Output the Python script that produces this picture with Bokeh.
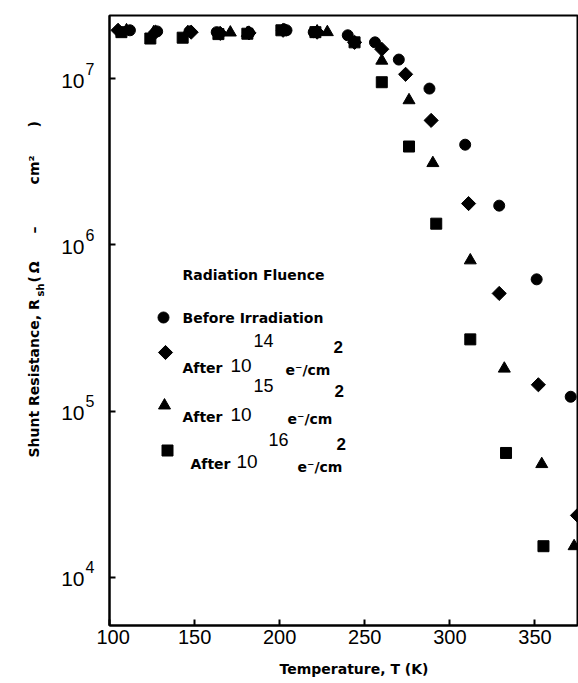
import numpy as np
from bokeh.plotting import figure
from bokeh.layouts import row
from bokeh.models import Label, FixedTicker, CustomJSTickFormatter, Range1d
from bokeh.embed import file_html
from bokeh.resources import INLINE

# ---------------- data ----------------
t_before = [112, 128, 147, 163, 182, 204, 220, 240, 256, 270, 288, 309, 329, 351, 371]
r_before = [1.95e7, 1.92e7, 1.92e7, 1.9e7, 1.88e7, 1.95e7, 1.9e7, 1.82e7, 1.65e7,
            1.3e7, 8.7e6, 4.0e6, 1.72e6, 6.2e5, 1.22e5]

t_e14 = [105, 127, 148, 165, 182, 202, 222, 244, 260, 274, 289, 311, 329, 352, 375]
r_e14 = [1.95e7, 1.9e7, 1.9e7, 1.87e7, 1.88e7, 1.95e7, 1.9e7, 1.65e7, 1.5e7,
         1.06e7, 5.6e6, 1.77e6, 5.1e5, 1.44e5, 2.36e4]

t_e15 = [110, 126, 146, 171, 181, 203, 222, 228, 260, 276, 290, 312, 332, 354, 373]
r_e15 = [1.95e7, 1.9e7, 1.9e7, 1.89e7, 1.88e7, 1.95e7, 1.92e7, 1.9e7, 1.28e7,
         7.4e6, 3.1e6, 8.06e5, 1.8e5, 4.8e4, 1.54e4]

t_e16 = [107, 124, 143, 164, 181, 201, 221, 244, 260, 276, 292, 312, 333, 355]
r_e16 = [1.9e7, 1.74e7, 1.76e7, 1.85e7, 1.86e7, 1.95e7, 1.9e7, 1.65e7, 9.5e6,
         3.9e6, 1.34e6, 2.7e5, 5.6e4, 1.54e4]

x_ticks = [100, 150, 200, 250, 300, 350]
y_ticks = [1e4, 1e5, 1e6, 1e7]
y_tick_exp = ["4", "5", "6", "7"]

legend_title = "Radiation Fluence"
legend_labels = ["Before Irradiation", "After", "After", "After"]
legend_exps = ["14", "15", "16"]

x_label = "\u2003\u2002Temperature, T (K)"
y_label_main = "Shunt Resistance, R"
y_label_sub = "sh"
y_label_rest = "(\u2009\u03a9\u2003\u2003\u2013\u2003\u2003\u2003cm\u00b2\u2003\u2003)"

# ---------------- layout ----------------
X_MIN, X_MAX = 100, 375
LOG_MIN, LOG_MAX = 3.7107, 7.379
Y_MIN, Y_MAX = 10 ** LOG_MIN, 10 ** LOG_MAX
W, H = 578, 683
SIDE_W = 96                  # width of the left label strip
BL, BT, BR, BB = 109, 15, 1, 58   # frame edges in page pixels
FW, FH = W - BL - BR, H - BT - BB

def px_x(xp):
    return X_MIN + (xp - BL) / FW * (X_MAX - X_MIN)

def px_y(yp):
    return 10 ** (LOG_MAX - (yp - BT) / FH * (LOG_MAX - LOG_MIN))

y_range = Range1d(Y_MIN, Y_MAX)

# ---------------- main plot ----------------
p = figure(width=W - SIDE_W, height=H, x_range=Range1d(X_MIN, X_MAX), y_range=y_range,
           y_axis_type="log", output_backend="svg", toolbar_location=None,
           min_border_left=BL - SIDE_W, min_border_top=BT, min_border_right=BR,
           min_border_bottom=BB)
p.background_fill_color = "white"
p.border_fill_color = "white"
p.xgrid.visible = False
p.ygrid.visible = False
p.outline_line_color = "black"
p.outline_line_width = 2

p.xaxis.ticker = FixedTicker(ticks=x_ticks)
p.xaxis.major_tick_in = 6
p.xaxis.major_tick_out = 0
p.xaxis.minor_tick_line_color = None
p.xaxis.axis_line_width = 2
p.xaxis.major_tick_line_width = 2
p.xaxis.major_label_text_font = "Liberation Sans"
p.xaxis.major_label_text_font_size = "20px"
p.xaxis.major_label_text_color = "black"
p.xaxis.major_label_standoff = 4
p.xaxis.axis_label = x_label
p.xaxis.axis_label_text_font = "DejaVu Sans"
p.xaxis.axis_label_text_font_style = "bold"
p.xaxis.axis_label_text_font_size = "14px"
p.xaxis.axis_label_text_color = "black"
p.xaxis.axis_label_standoff = 14

p.yaxis.ticker = FixedTicker(ticks=y_ticks)
p.yaxis.major_tick_in = 6
p.yaxis.major_tick_out = 0
p.yaxis.minor_tick_line_color = None
p.yaxis.axis_line_width = 2
p.yaxis.major_tick_line_width = 2
p.yaxis.major_label_standoff = 0
p.yaxis.formatter = CustomJSTickFormatter(code="return ''")

# ---------------- data marks ----------------
p.scatter(t_before, r_before, marker="circle", size=11, color="black")
p.scatter(t_e14, r_e14, marker="square", angle=np.pi / 4, size=10, color="black")
p.scatter(t_e15, r_e15, marker="triangle", size=12, color="black")
p.scatter(t_e16, r_e16, marker="square", size=11, color="black")

# ---------------- legend ----------------
BOLD = dict(text_font="DejaVu Sans", text_font_style="bold", text_color="black",
            text_baseline="middle", text_align="left")
PLAIN = dict(text_font="Liberation Sans", text_color="black",
             text_baseline="middle", text_align="left")

p.add_layout(Label(x=px_x(182), y=px_y(274), text=legend_title, text_font_size="14px", **BOLD))
p.scatter([px_x(163)], [px_y(317)], marker="circle", size=11, color="black")
p.scatter([px_x(165)], [px_y(352)], marker="square", angle=np.pi / 4, size=10, color="black")
p.scatter([px_x(164)], [px_y(405)], marker="triangle", size=12, color="black")
p.scatter([px_x(167)], [px_y(450)], marker="square", size=11, color="black")

p.add_layout(Label(x=px_x(182), y=px_y(317), text=legend_labels[0], text_font_size="14px", **BOLD))

rows = [  # after_x, after_y, ten_x, ten_y, exp_x, exp_y, e_x, e_y, two_x, two_y
    (182, 367, 230, 365, 253, 340, 285, 369, 333, 346),
    (182, 416, 230, 414, 253, 385, 287, 418, 334, 390),
    (190, 463, 236, 461, 268, 439, 297, 466, 336, 443),
]
for (ax, ay, tx, ty, ex, ey, cx, cy, wx, wy), lab, exp in zip(rows, legend_labels[1:], legend_exps):
    p.add_layout(Label(x=px_x(ax), y=px_y(ay), text=lab, text_font_size="14px", **BOLD))
    p.add_layout(Label(x=px_x(tx), y=px_y(ty), text="10", text_font_size="19px", **PLAIN))
    p.add_layout(Label(x=px_x(ex), y=px_y(ey), text=exp, text_font_size="18px", **PLAIN))
    p.add_layout(Label(x=px_x(cx), y=px_y(cy), text="e\u207b/cm", text_font_size="14px", **BOLD))
    p.add_layout(Label(x=px_x(wx), y=px_y(wy), text="2", text_font_size="17px",
                       **{**PLAIN, "text_font_style": "bold"}))

# ---------------- left strip: y tick labels and y title ----------------
s = figure(width=SIDE_W, height=H, x_range=Range1d(0, SIDE_W), y_range=y_range,
           y_axis_type="log", output_backend="svg", toolbar_location=None,
           x_axis_location=None, y_axis_location=None,
           min_border_left=0, min_border_right=0, min_border_top=BT, min_border_bottom=BB)
s.xgrid.visible = False
s.ygrid.visible = False
s.outline_line_color = None
s.background_fill_color = "white"
s.border_fill_color = "white"

for v, e in zip(y_ticks, y_tick_exp):
    s.add_layout(Label(x=84, y=v, text="10", text_align="right", text_baseline="middle",
                       y_offset=-2, text_font="Liberation Sans", text_font_size="21px",
                       text_color="black"))
    s.add_layout(Label(x=85, y=v, text=e, text_align="left", text_baseline="middle",
                       y_offset=10, text_font="Liberation Sans", text_font_size="16px",
                       text_color="black"))

s.add_layout(Label(x=33, y=px_y(457), text=y_label_main, angle=np.pi / 2,
                   text_font_size="14px", **BOLD))
s.add_layout(Label(x=40, y=px_y(296), text=y_label_sub, angle=np.pi / 2,
                   text_font_size="10px", **BOLD))
s.add_layout(Label(x=33, y=px_y(282), text=y_label_rest, angle=np.pi / 2,
                   text_font_size="14px", **BOLD))

layout = row(s, p)
open("out.html", "w").write(file_html(layout, INLINE))
